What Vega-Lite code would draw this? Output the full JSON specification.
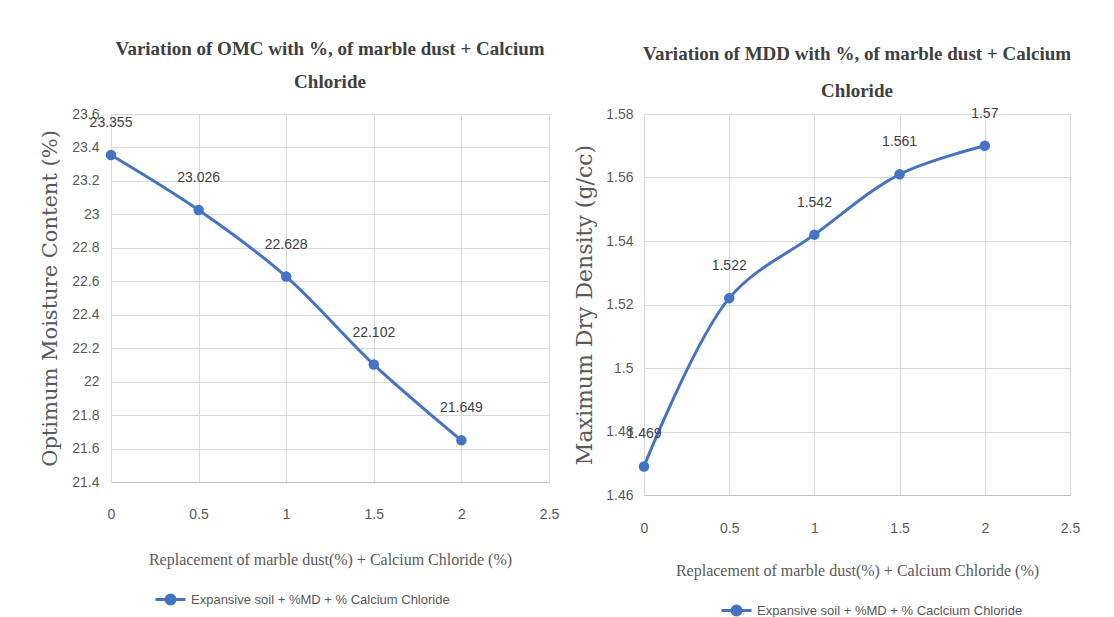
{
  "$schema": "https://vega.github.io/schema/vega-lite/v6.json",
  "background": "white",
  "padding": {"left": 39, "top": 39, "right": 5, "bottom": 2},
  "spacing": 95,
  "bounds": "flush",
  "config": {
    "view": {"stroke": "#d9d9d9"},
    "axis": {
      "gridColor": "#d9d9d9",
      "domainColor": "#bfbfbf",
      "ticks": false,
      "labelFont": "Liberation Sans",
      "labelFontSize": 14,
      "labelColor": "#595959",
      "titleColor": "#595959",
      "titleFontWeight": "normal",
      "labelFlush": false,
      "labelOverlap": false
    }
  },
  "resolve": {"legend": {"color": "independent"}, "scale": {"color": "independent"}},
  "hconcat": [
    {
      "width": 438,
      "height": 368,
      "title": {
        "text": ["Variation of OMC with %, of marble dust + Calcium", "Chloride"],
        "font": "Liberation Serif",
        "fontSize": 19,
        "fontWeight": "bold",
        "color": "#404040",
        "lineHeight": 33,
        "offset": 15,
        "anchor": "middle"
      },
      "data": {"values": [
        {"pct": 0, "omc": 23.355, "series": "Expansive soil + %MD + % Calcium Chloride"},
        {"pct": 0.5, "omc": 23.026, "series": "Expansive soil + %MD + % Calcium Chloride"},
        {"pct": 1, "omc": 22.628, "series": "Expansive soil + %MD + % Calcium Chloride"},
        {"pct": 1.5, "omc": 22.102, "series": "Expansive soil + %MD + % Calcium Chloride"},
        {"pct": 2, "omc": 21.649, "series": "Expansive soil + %MD + % Calcium Chloride"}
      ]},
      "encoding": {
        "x": {"field": "pct", "type": "quantitative", "scale": {"domain": [0, 2.5]},
          "axis": {"values": [0, 0.5, 1, 1.5, 2, 2.5], "format": "~g", "title": "Replacement of marble dust(%) + Calcium Chloride (%)",
            "labelPadding": 25, "titlePadding": 30, "titleFont": "Liberation Serif", "titleFontSize": 16}},
        "y": {"field": "omc", "type": "quantitative", "scale": {"domain": [21.4, 23.6], "zero": false},
          "axis": {"values": [21.4, 21.6, 21.8, 22, 22.2, 22.4, 22.6, 22.8, 23, 23.2, 23.4, 23.6], "format": "~g",
            "title": "Optimum Moisture Content (%)", "titleFont": "DejaVu Serif", "titleFontSize": 21,
            "labelPadding": 12, "titlePadding": 11, "domain": false}}
      },
      "layer": [
        {
          "mark": {"type": "line", "interpolate": "catmull-rom", "strokeWidth": 3},
          "encoding": {"color": {"field": "series", "type": "nominal", "scale": {"range": ["#4472C4"]},
            "legend": {"orient": "none", "legendX": 43, "legendY": 469, "title": null, "direction": "horizontal", "labelLimit": 0,
              "labelFont": "Liberation Sans", "labelFontSize": 13, "labelColor": "#595959", "labelOffset": 4,
              "symbolType": "M-1,0H1M-0.3,0A0.3,0.3,0,1,1,0.3,0A0.3,0.3,0,1,1,-0.3,0Z", "symbolSize": 900,
              "symbolStrokeWidth": 3, "symbolFillColor": "#4472C4", "symbolStrokeColor": "#4472C4",
              "encode": {"symbols": {"update": {"fill": {"value": "#4472C4"}, "stroke": {"value": "#4472C4"}, "strokeWidth": {"value": 3}}}}}}}
        },
        {"mark": {"type": "circle", "size": 110, "opacity": 1, "color": "#4472C4"}},
        {
          "mark": {"type": "text", "dy": -32, "font": "Liberation Sans", "fontSize": 14, "color": "#404040"},
          "encoding": {"text": {"field": "omc", "type": "quantitative", "format": "~g"}}
        }
      ]
    },
    {
      "width": 426,
      "height": 381,
      "title": {
        "text": ["Variation of MDD with %, of marble dust + Calcium", "Chloride"],
        "font": "Liberation Serif",
        "fontSize": 19,
        "fontWeight": "bold",
        "color": "#404040",
        "lineHeight": 37,
        "offset": 6,
        "anchor": "middle"
      },
      "data": {"values": [
        {"pct": 0, "mdd": 1.469, "series": "Expansive soil + %MD + % Caclcium Chloride"},
        {"pct": 0.5, "mdd": 1.522, "series": "Expansive soil + %MD + % Caclcium Chloride"},
        {"pct": 1, "mdd": 1.542, "series": "Expansive soil + %MD + % Caclcium Chloride"},
        {"pct": 1.5, "mdd": 1.561, "series": "Expansive soil + %MD + % Caclcium Chloride"},
        {"pct": 2, "mdd": 1.57, "series": "Expansive soil + %MD + % Caclcium Chloride"}
      ]},
      "encoding": {
        "x": {"field": "pct", "type": "quantitative", "scale": {"domain": [0, 2.5]},
          "axis": {"values": [0, 0.5, 1, 1.5, 2, 2.5], "format": "~g", "title": "Replacement of marble dust(%) + Calcium Chloride (%)",
            "labelPadding": 26, "titlePadding": 27, "titleFont": "Liberation Serif", "titleFontSize": 16}},
        "y": {"field": "mdd", "type": "quantitative", "scale": {"domain": [1.46, 1.58], "zero": false},
          "axis": {"values": [1.46, 1.48, 1.5, 1.52, 1.54, 1.56, 1.58], "format": "~g",
            "title": "Maximum Dry Density (g/cc)", "titleFont": "DejaVu Serif", "titleFontSize": 22,
            "labelPadding": 11, "titlePadding": 9, "domain": false}}
      },
      "layer": [
        {
          "mark": {"type": "line", "interpolate": "catmull-rom", "strokeWidth": 3},
          "encoding": {"color": {"field": "series", "type": "nominal", "scale": {"range": ["#4472C4"]},
            "legend": {"orient": "none", "legendX": 76, "legendY": 480, "title": null, "direction": "horizontal", "labelLimit": 0,
              "labelFont": "Liberation Sans", "labelFontSize": 13, "labelColor": "#595959", "labelOffset": 4,
              "symbolType": "M-1,0H1M-0.3,0A0.3,0.3,0,1,1,0.3,0A0.3,0.3,0,1,1,-0.3,0Z", "symbolSize": 900,
              "symbolStrokeWidth": 3, "symbolFillColor": "#4472C4", "symbolStrokeColor": "#4472C4",
              "encode": {"symbols": {"update": {"fill": {"value": "#4472C4"}, "stroke": {"value": "#4472C4"}, "strokeWidth": {"value": 3}}}}}}}
        },
        {"mark": {"type": "circle", "size": 110, "opacity": 1, "color": "#4472C4"}},
        {
          "mark": {"type": "text", "dy": -32, "font": "Liberation Sans", "fontSize": 14, "color": "#404040"},
          "encoding": {"text": {"field": "mdd", "type": "quantitative", "format": "~g"}}
        }
      ]
    }
  ]
}
